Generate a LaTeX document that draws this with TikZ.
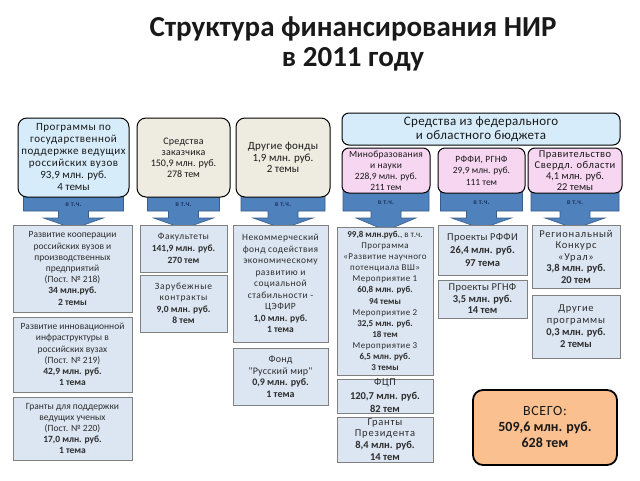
\documentclass[tikz,border=0pt]{standalone}
\usepackage{fontspec}
\setmainfont{Carlito}
\newfontfamily\lspa[LetterSpace=2.5]{Carlito}
\newfontfamily\lspb[LetterSpace=5]{Carlito}
\newfontfamily\lspc[LetterSpace=7.5]{Carlito}
\newcommand\numb[1]{{\rmfamily\bfseries #1}}
\newcommand\numr[1]{{\rmfamily #1}}
\usetikzlibrary{backgrounds,calc}
\definecolor{topblue}{RGB}{214,236,250}
\definecolor{beige}{RGB}{238,236,225}
\definecolor{pinkbox}{RGB}{246,214,240}
\definecolor{lowfill}{RGB}{220,230,242}
\definecolor{lowedge}{RGB}{128,128,128}
\definecolor{arrowblue}{RGB}{79,129,189}
\definecolor{arrowedge}{RGB}{56,93,138}
\definecolor{navy}{RGB}{31,56,100}
\definecolor{totalfill}{RGB}{250,192,144}
\definecolor{txt}{RGB}{25,25,25}
\definecolor{txtl}{RGB}{45,45,45}
\newcommand\vtarrow[5]{%
  \path[calloutshape] let \p1=(#1.south), \p2=(#2.north) in
    ({\x1-#3pt},{\y1+6pt}) -- ({\x1+#3pt},{\y1+6pt}) -- ({\x1+#3pt},-211pt)
    -- ({\x1+15pt},-211pt) -- ({\x1+15pt},-218pt) -- ({\x1+30pt},-218pt)
    -- ({\x1},{\y2-4pt}) -- ({\x1-30pt},-218pt) -- ({\x1-15pt},-218pt)
    -- ({\x1-15pt},-211pt) -- ({\x1-#3pt},-211pt) -- cycle;
  \node[vtch] (#4) at ($(#1.south)+(0,#5)$) {в т.ч.};
}
\begin{document}
\begin{tikzpicture}[x=1pt,y=-1pt,
  topbox/.style={draw=black, line width=1pt, rounded corners=9pt, align=center,
    inner sep=1pt, text=txt, font=\fontsize{10}{12}\selectfont},
  lowbox/.style={draw=lowedge, line width=0.8pt, fill=lowfill, align=center,
    inner sep=1pt, text=txtl, font=\fontsize{9.5}{11.2}\selectfont},
  calloutshape/.style={fill=arrowblue, draw=arrowedge, line width=0.6pt},
  vtch/.style={font=\lspa\bfseries\fontsize{7.5}{8}\selectfont, text=navy, inner sep=0pt},
  titletext/.style={font=\bfseries\fontsize{29}{30}\selectfont, text=txt, align=center}
]
\useasboundingbox (0,0) rectangle (640,480);

\node[titletext] (title) at (353,44) {Структура финансирования НИР\\в 2011 году};

% top boxes
\node[topbox, fill=topblue, minimum width=111pt, minimum height=79pt,
  font=\lspb\fontsize{11}{12}\selectfont] (t1) at (73.5,157.5)
  {Программы по\\государственной\\поддержке ведущих\\российских вузов\\\numr{93,9 млн. руб.}\\\numr{4 темы}};
\node[topbox, fill=beige, minimum width=93pt, minimum height=79pt,
  font=\lspa\fontsize{10}{11}\selectfont] (t2) at (183.5,157.5)
  {Средства\\заказчика\\\numr{150,9 млн. руб.}\\\numr{278 тем}};
\node[topbox, fill=beige, minimum width=94pt, minimum height=79pt,
  font=\lspa\fontsize{11}{11.5}\selectfont] (t3) at (283,157.5)
  {Другие фонды\\\numr{1,9 млн. руб.}\\\numr{2 темы}};
\node[topbox, fill=topblue, rounded corners=7pt, minimum width=278pt, minimum height=32pt,
  font=\lspa\fontsize{13}{14}\selectfont] (fed) at (481,129)
  {Средства из федерального\\и областного бюджета};
\node[topbox, fill=pinkbox, rounded corners=7pt, minimum width=88pt, minimum height=45pt,
  font=\lspa\fontsize{9.5}{11}\selectfont] (p1) at (386,170.5)
  {Минобразования\\и науки\\\numr{228,9 млн. руб.}\\\numr{211 тем}};
\node[topbox, fill=pinkbox, rounded corners=7pt, minimum width=87pt, minimum height=45pt,
  font=\lspa\fontsize{9.5}{11.5}\selectfont] (p2) at (481.5,170.5)
  {РФФИ, РГНФ\\\numr{29,9 млн. руб.}\\\numr{111 тем}};
\node[topbox, fill=pinkbox, rounded corners=7pt, minimum width=94pt, minimum height=45pt,
  font=\lspb\fontsize{10.5}{11}\selectfont] (p3) at (575,170.5)
  {Правительство\\Свердл. области\\\numr{4,1 млн. руб.}\\\numr{22 темы}};

% lower boxes
\node[lowbox, minimum width=119pt, minimum height=87pt] (l11) at (72.5,268.5)
  {Развитие кооперации\\российских вузов и\\производственных\\предприятий\\(Пост. № 218)\\\textbf{34 млн.руб.}\\\textbf{2 темы}};
\node[lowbox, minimum width=119pt, minimum height=75pt] (l12) at (72.5,354.5)
  {Развитие инновационной\\инфраструктуры в\\российских вузах\\(Пост. № 219)\\\textbf{42,9 млн. руб.}\\\textbf{1 тема}};
\node[lowbox, minimum width=119pt, minimum height=63pt] (l13) at (72.5,428.5)
  {Гранты для поддержки\\ведущих ученых\\(Пост. № 220)\\\textbf{17,0 млн. руб.}\\\textbf{1 тема}};
\node[lowbox, minimum width=87pt, minimum height=47pt,
  font=\lspb\fontsize{9.5}{12}\selectfont] (l21) at (183.5,248.5)
  {Факультеты\\\numb{141,9 млн. руб.}\\\numb{270 тем}};
\node[lowbox, minimum width=87pt, minimum height=57pt,
  font=\lspc\fontsize{9.5}{11.5}\selectfont] (l22) at (183.5,303.5)
  {Зарубежные\\контракты\\\numb{9,0 млн. руб.}\\\numb{8 тем}};
\node[lowbox, minimum width=95pt, minimum height=117pt,
  font=\lspb\fontsize{9.5}{11.5}\selectfont] (l31) at (280.5,283.5)
  {Некоммерческий\\фонд содействия\\экономическому\\развитию и\\социальной\\стабильности -\\ЦЭФИР\\\numb{1,0 млн. руб.}\\\numb{1 тема}};
\node[lowbox, minimum width=95pt, minimum height=57pt,
  font=\lspa\fontsize{10}{11.5}\selectfont] (l32) at (280.5,376.5)
  {Фонд\\"Русский мир"\\\numb{0,9 млн. руб.}\\\numb{1 тема}};
\node[lowbox, minimum width=96pt, minimum height=148pt,
  font=\lspb\fontsize{9}{11.1}\selectfont] (l41) at (385,301)
  {\numb{99,8 млн.руб.}\numr{, в т.ч.}\\Программа\\«Развитие научного\\потенциала ВШ»\\Мероприятие 1\\\numb{60,8 млн. руб.}\\\numb{94 темы}\\Мероприятие 2\\\numb{32,5 млн. руб.}\\\numb{18 тем}\\Мероприятие 3\\\numb{6,5 млн. руб.}\\\numb{3 темы}};
\node[lowbox, minimum width=96pt, minimum height=32pt, inner sep=0pt,
  font=\lspb\fontsize{10.5}{13.5}\selectfont] (l42) at (385,396)
  {ФЦП\\\numb{120,7 млн. руб.}\\\numb{82 тем}};
\node[lowbox, minimum width=96pt, minimum height=45pt, inner sep=0pt,
  font=\lspc\fontsize{10.5}{11.8}\selectfont] (l43) at (385,439.5)
  {Гранты\\Президента\\\numb{8,4 млн. руб.}\\\numb{14 тем}};
\node[lowbox, minimum width=89pt, minimum height=50pt,
  font=\lspa\fontsize{10.5}{13}\selectfont] (l51) at (482.5,250)
  {Проекты РФФИ\\\numb{26,4 млн. руб.}\\\numb{97 тема}};
\node[lowbox, minimum width=89pt, minimum height=38pt,
  font=\lspa\fontsize{10.5}{11.5}\selectfont] (l52) at (482.5,299)
  {Проекты РГНФ\\\numb{3,5 млн. руб.}\\\numb{14 тем}};
\node[lowbox, minimum width=88pt, minimum height=63pt,
  font=\lspc\fontsize{10.5}{11.5}\selectfont] (l61) at (576,256.5)
  {Региональный\\Конкурс\\«Урал»\\\numb{3,8 млн. руб.}\\\numb{20 тем}};
\node[lowbox, minimum width=88pt, minimum height=63pt,
  font=\lspc\fontsize{10.5}{12}\selectfont] (l62) at (576,326.5)
  {Другие\\программы\\\numb{0,3 млн. руб.}\\\numb{2 темы}};

\node[draw=black, line width=1.8pt, rounded corners=10pt, fill=totalfill, align=center,
  text=txt, minimum width=144pt, minimum height=75pt,
  font=\lspb\fontsize{14}{16}\selectfont] (total) at (545,427.5)
  {ВСЕГО:\\\numb{509,6 млн. руб.}\\\numb{628 тем}};

% callout arrows
\begin{scope}[on background layer]
\vtarrow{t1}{l11}{50}{v1}{7}
\vtarrow{t2}{l21}{36}{v2}{7}
\vtarrow{t3}{l31}{42}{v3}{7}
\vtarrow{p1}{l41}{43}{v4}{9}
\vtarrow{p2}{l51}{41}{v5}{9}
\vtarrow{p3}{l61}{44}{v6}{9}
\end{scope}
\end{tikzpicture}
\end{document}
